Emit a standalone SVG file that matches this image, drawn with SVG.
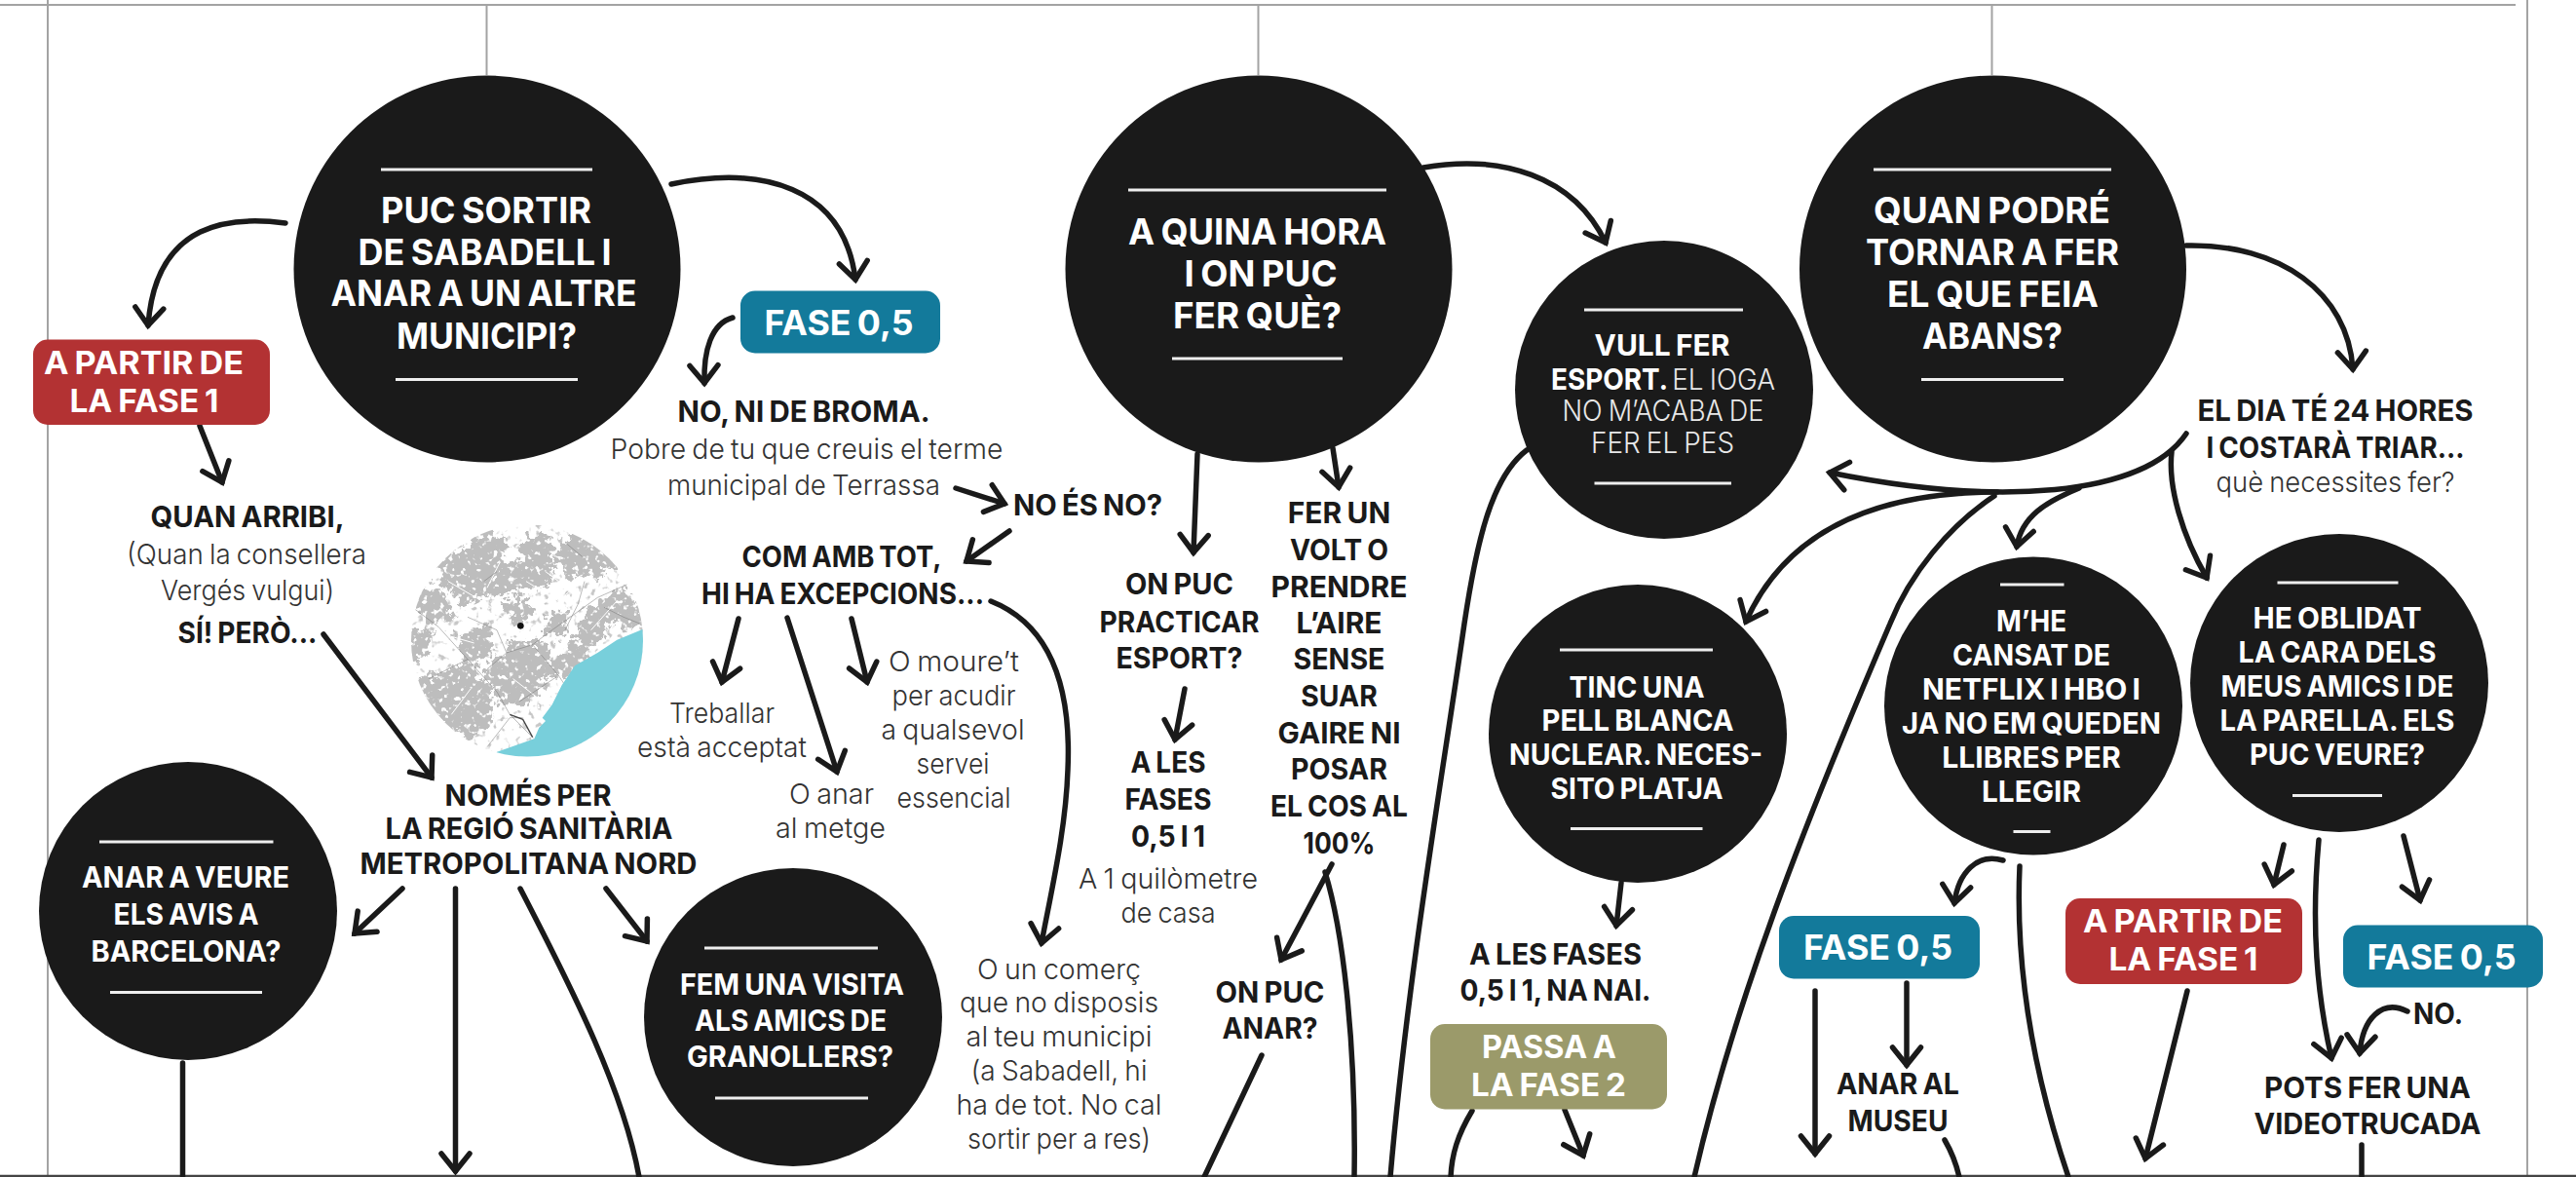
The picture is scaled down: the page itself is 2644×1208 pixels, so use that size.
<svg xmlns="http://www.w3.org/2000/svg" width="2644" height="1208" viewBox="0 0 2644 1208">
<style>
text{font-family:"Inter","Liberation Sans",sans-serif;text-anchor:middle;word-spacing:-.06em}
.h{font-size:37px;font-weight:700;fill:#fff}
.w{font-size:29.5px;font-weight:700;fill:#fff}
.wl{font-weight:300;fill:#e8e8e8}
.d{font-size:29.5px;font-weight:700;fill:#1a1a1a}
.l{font-size:29px;font-weight:300;fill:#333}
.b{font-size:32px;font-weight:700;fill:#fff}
.f{font-size:35px;font-weight:700;fill:#fff}
.c{fill:#1a1a1a}
.r{stroke:#eee;stroke-width:3;fill:none}
.frame{stroke:#a3a3a3;stroke-width:2;fill:none}
.conn path{fill:none;stroke:#1a1a1a;stroke-width:5.5;stroke-linecap:round}
.a{marker-end:url(#arr)}
.red{fill:#b33233}.teal{fill:#137a9b}.olive{fill:#9b9a6a}
.road{fill:none;stroke:#777;stroke-width:2.5;opacity:.6}
.wr{fill:none;stroke:#fff;stroke-width:3}
</style>
<defs>
<marker id="arr" markerUnits="userSpaceOnUse" markerWidth="50" markerHeight="50" refX="25" refY="25" orient="auto" viewBox="0 0 50 50" overflow="visible">
<path d="M7,10.5 L25,25 L7,39.5" fill="none" stroke="#1a1a1a" stroke-width="5.5" stroke-linecap="round" stroke-linejoin="miter"/>
</marker>
<clipPath id="mapclip"><circle cx="541" cy="657.5" r="119"/></clipPath>
<filter id="rough" x="-10%" y="-10%" width="120%" height="120%" color-interpolation-filters="sRGB">
<feTurbulence type="fractalNoise" baseFrequency="0.035" numOctaves="5" seed="4" result="n"/>
<feDisplacementMap in="SourceGraphic" in2="n" scale="70" xChannelSelector="R" yChannelSelector="G"/>
</filter>
<filter id="speck" x="0" y="0" width="100%" height="100%" color-interpolation-filters="sRGB">
<feTurbulence type="fractalNoise" baseFrequency="0.14" numOctaves="2" seed="9"/>
<feColorMatrix values="0 0 0 0 .78 0 0 0 0 .78 0 0 0 0 .78 7 0 0 0 -4.2"/>
</filter>
<filter id="wspeck" x="0" y="0" width="100%" height="100%" color-interpolation-filters="sRGB">
<feTurbulence type="fractalNoise" baseFrequency="0.06" numOctaves="2" seed="21"/>
<feColorMatrix values="0 0 0 0 1 0 0 0 0 1 0 0 0 0 1 9 0 0 0 -5.4"/>
</filter>
</defs>
<rect width="2644" height="1208" fill="#fff"/>
<g id="frame">
<path class="frame" d="M0,5H2582M49,0V1208M2594,0V1208M499.5,5V77M1291.5,5V77M2044.5,5V77"/>
<path d="M0,1207H2644" stroke="#444" stroke-width="2.5"/>
</g>
<g id="map" clip-path="url(#mapclip)">
<circle cx="541" cy="657.5" r="119" fill="#fff"/>
<rect x="420" y="536" width="244" height="244" filter="url(#speck)"/>
<g transform="translate(400,520) scale(.3333)">
<g fill="#bdbdbd" filter="url(#rough)">
<path d="M150,170L250,110L300,60L360,110L345,160L400,175L410,80L490,90L505,170L485,250L410,250L340,280L300,270L235,300L170,250Z"/>
<path d="M500,160L560,80L640,100L700,170L640,215L540,215Z"/>
<path d="M60,280L150,240L200,345L110,350Z"/>
<path d="M630,300L720,250L800,340L735,390L680,360L650,410L590,470L565,400Z"/>
<path d="M370,420L490,420L515,500L460,565L425,615L330,600L285,510L340,470Z"/>
<path d="M80,530L230,480L300,540L325,650L245,720L160,665L105,600Z"/>
<path d="M480,330L550,320L540,400L480,390Z"/>
<path d="M490,490L570,420L620,470L540,545Z"/>
<path d="M200,390L295,370L330,450L240,500Z"/>
<path d="M50,385L130,375L115,470L50,480Z"/>
<path d="M340,290L430,275L450,330L380,360Z"/>
</g>
<rect x="60" y="50" width="730" height="730" filter="url(#wspeck)"/>
<path class="wr" d="M180,230L300,300L360,350M340,170L300,250M420,230L520,290L600,220M120,380L260,420M380,530L470,600M620,380L700,290M250,560L190,640M480,200L560,260"/>
<path class="road" d="M70,310L150,370L240,470L330,570L370,640L440,710"/>
<path class="road" d="M240,470L120,530M360,450L440,425L500,380L640,280L730,240M440,425L520,520L540,550M300,500L360,450L330,380L240,340M400,600L520,520M300,740L370,650L410,650M540,380L580,300L600,230M660,310L720,340L770,360M290,230L330,200M540,110L600,160"/>
<path d="M370,640L410,655L440,710" fill="none" stroke="#444" stroke-width="4"/>
<path d="M778,378L700,410L640,450L570,490L530,550L500,610L470,650L480,660L460,680L445,715L330,755L300,800L800,800L800,378Z" fill="#78cfdb"/>
<circle cx="403" cy="367" r="10" fill="#111"/>
</g>
</g>
<g id="connectors" class="conn">
<path class="a" d="M293,229C240,222 160,225 152,334"/>
<path class="a" d="M689,189C780,170 866,190 878,287"/>
<path class="a" d="M752,326C730,332 722,360 723,393"/>
<path class="a" d="M205,437L228,495"/>
<path class="a" d="M332,651L443,798"/>
<path class="a" d="M413,912L364,958"/>
<path class="a" d="M467.5,912V1202"/>
<path d="M534,912C590,1020 640,1120 656,1208"/>
<path class="a" d="M622,912L664,966"/>
<path d="M187.5,1091V1208"/>
<path class="a" d="M981,501L1031,517"/>
<path class="a" d="M1036,545L992,576"/>
<path class="a" d="M758,635L741,700"/>
<path class="a" d="M808,634L859,792"/>
<path class="a" d="M874,635L890,700"/>
<path class="a" d="M1017,617C1075,640 1100,700 1096,790C1094,850 1080,910 1069,968"/>
<path class="a" d="M1229,466L1225,567"/>
<path class="a" d="M1368,460L1374,500"/>
<path class="a" d="M1216,707L1206,759"/>
<path class="a" d="M1367,887L1315,985"/>
<path d="M1360,895C1380,960 1392,1080 1390,1208"/>
<path d="M1295,1083L1236,1208"/>
<path class="a" d="M1461,172C1540,158 1615,180 1648,249"/>
<path class="a" d="M1664,906L1659,950"/>
<path class="a" d="M1606,1139L1625,1186"/>
<path d="M1511,1140C1496,1165 1490,1185 1489,1208"/>
<path d="M1567,462C1530,490 1515,560 1503,640C1480,800 1445,1000 1427,1208"/>
<path class="a" d="M2244,252C2340,250 2410,300 2415,379"/>
<path class="a" d="M2244,445C2200,510 2050,520 1878,485"/>
<path class="a" d="M2050,505C1950,505 1840,530 1792,638"/>
<path d="M2047,509C2000,540 1960,590 1940,640C1850,850 1780,1030 1739,1208"/>
<path class="a" d="M2134,501C2100,515 2075,530 2070,561"/>
<path class="a" d="M2229,464C2225,500 2240,550 2265,593"/>
<path class="a" d="M2056,883C2030,875 2010,895 2006,927"/>
<path d="M2073,889C2068,1000 2090,1110 2123,1208"/>
<path class="a" d="M2344,867L2334,908"/>
<path class="a" d="M2380,862C2372,950 2378,1020 2393,1086"/>
<path class="a" d="M2467,858L2484,924"/>
<path class="a" d="M2471,1038C2445,1025 2425,1045 2422,1081"/>
<path class="a" d="M1863,1017V1184"/>
<path class="a" d="M1957,1009V1093"/>
<path d="M1996,1170C2003,1182 2008,1195 2011,1208"/>
<path class="a" d="M2245,1017L2202,1189"/>
<path d="M2424,1175V1208"/>
</g>
<g id="n1"><circle class="c" cx="500" cy="276" r="198.5"/><path class="r" d="M391,174H608M406,389.5H593"/>
<text lengthAdjust="spacingAndGlyphs" class="h" x="499" y="229" textLength="216">PUC SORTIR</text><text lengthAdjust="spacingAndGlyphs" class="h" x="497.5" y="272" textLength="260">DE SABADELL I</text><text lengthAdjust="spacingAndGlyphs" class="h" x="496.5" y="314" textLength="314">ANAR A UN ALTRE</text><text lengthAdjust="spacingAndGlyphs" class="h" x="499.5" y="357.5" textLength="185">MUNICIPI?</text></g>
<g id="n2"><circle class="c" cx="1292" cy="276" r="198.5"/><path class="r" d="M1158,195H1423M1203,368H1378"/>
<text lengthAdjust="spacingAndGlyphs" class="h" x="1290.5" y="251" textLength="265">A QUINA HORA</text><text lengthAdjust="spacingAndGlyphs" class="h" x="1294" y="293.5" textLength="157">I ON PUC</text><text lengthAdjust="spacingAndGlyphs" class="h" x="1290.5" y="337" textLength="173">FER QUÈ?</text></g>
<g id="n3"><circle class="c" cx="2045.5" cy="276" r="198.5"/><path class="r" d="M1923,174H2167M1972,389.5H2118"/>
<text lengthAdjust="spacingAndGlyphs" class="h" x="2044.5" y="229" textLength="243">QUAN PODRÉ</text><text lengthAdjust="spacingAndGlyphs" class="h" x="2045" y="271.5" textLength="260">TORNAR A FER</text><text lengthAdjust="spacingAndGlyphs" class="h" x="2045.5" y="314.5" textLength="217">EL QUE FEIA</text><text lengthAdjust="spacingAndGlyphs" class="h" x="2045" y="357.5" textLength="144">ABANS?</text></g>
<g id="n4"><circle class="c" cx="1708" cy="400" r="153"/><path class="r" d="M1626,318H1789M1636.5,496H1777"/>
<text lengthAdjust="spacingAndGlyphs" class="w" x="1706" y="365" textLength="139">VULL FER</text><text lengthAdjust="spacingAndGlyphs" class="w" x="1707" y="399.5" textLength="230">ESPORT. <tspan class="wl">EL IOGA</tspan></text><text lengthAdjust="spacingAndGlyphs" class="w wl" x="1707" y="432" textLength="207">NO M’ACABA DE</text><text lengthAdjust="spacingAndGlyphs" class="w wl" x="1706.5" y="465" textLength="147">FER EL PES</text></g>
<g id="n5"><circle class="c" cx="1681" cy="753" r="153"/><path class="r" d="M1601,667H1758M1612,850.5H1747.5"/>
<text lengthAdjust="spacingAndGlyphs" class="w" x="1680" y="715.5" textLength="139">TINC UNA</text><text lengthAdjust="spacingAndGlyphs" class="w" x="1681" y="749.5" textLength="197">PELL BLANCA</text><text lengthAdjust="spacingAndGlyphs" class="w" x="1679" y="785" textLength="260">NUCLEAR. NECES-</text><text lengthAdjust="spacingAndGlyphs" class="w" x="1680" y="819.5" textLength="177">SITO PLATJA</text></g>
<g id="n6"><circle class="c" cx="2087" cy="724.5" r="153"/><path class="r" d="M2053,600H2118.5M2066.5,853.5H2104.5"/>
<text lengthAdjust="spacingAndGlyphs" class="w" x="2085" y="647.5" textLength="72">M’HE</text><text lengthAdjust="spacingAndGlyphs" class="w" x="2085" y="682.5" textLength="162">CANSAT DE</text><text lengthAdjust="spacingAndGlyphs" class="w" x="2085" y="717.5" textLength="224">NETFLIX I HBO I</text><text lengthAdjust="spacingAndGlyphs" class="w" x="2085" y="753" textLength="266">JA NO EM QUEDEN</text><text lengthAdjust="spacingAndGlyphs" class="w" x="2085" y="788" textLength="183.5">LLIBRES PER</text><text lengthAdjust="spacingAndGlyphs" class="w" x="2085" y="823" textLength="102">LLEGIR</text></g>
<g id="n7"><circle class="c" cx="2401" cy="701" r="153"/><path class="r" d="M2337.5,598H2461.5M2353,816.5H2445"/>
<text lengthAdjust="spacingAndGlyphs" class="w" x="2399" y="645" textLength="173">HE OBLIDAT</text><text lengthAdjust="spacingAndGlyphs" class="w" x="2399" y="680" textLength="203">LA CARA DELS</text><text lengthAdjust="spacingAndGlyphs" class="w" x="2399" y="715" textLength="239">MEUS AMICS I DE</text><text lengthAdjust="spacingAndGlyphs" class="w" x="2399" y="750" textLength="241">LA PARELLA. ELS</text><text lengthAdjust="spacingAndGlyphs" class="w" x="2399" y="785" textLength="180">PUC VEURE?</text></g>
<g id="n8"><circle class="c" cx="193" cy="935" r="153"/><path class="r" d="M102,864H280.5M113,1018.5H269"/>
<text lengthAdjust="spacingAndGlyphs" class="w" x="190.5" y="911" textLength="213">ANAR A VEURE</text><text lengthAdjust="spacingAndGlyphs" class="w" x="191" y="949" textLength="149">ELS AVIS A</text><text lengthAdjust="spacingAndGlyphs" class="w" x="191" y="986.5" textLength="195">BARCELONA?</text></g>
<g id="n9"><circle class="c" cx="814" cy="1044" r="153"/><path class="r" d="M723,973H901M734,1127H891"/>
<text lengthAdjust="spacingAndGlyphs" class="w" x="813" y="1021" textLength="230">FEM UNA VISITA</text><text lengthAdjust="spacingAndGlyphs" class="w" x="811.5" y="1057.5" textLength="197">ALS AMICS DE</text><text lengthAdjust="spacingAndGlyphs" class="w" x="811" y="1095" textLength="212">GRANOLLERS?</text></g>
<g id="b1"><rect class="red" x="34" y="348.5" width="243" height="87.5" rx="15"/><text lengthAdjust="spacingAndGlyphs" class="b" x="147.5" y="384" textLength="205">A PARTIR DE</text><text lengthAdjust="spacingAndGlyphs" class="b" x="148" y="422.5" textLength="153">LA FASE 1</text></g>
<g id="b2"><rect class="teal" x="760" y="298.5" width="205" height="64" rx="15"/><text lengthAdjust="spacingAndGlyphs" class="f" x="861" y="344" textLength="153">FASE 0,5</text></g>
<g id="b3"><rect class="teal" x="1826" y="940" width="206" height="64.5" rx="15"/><text lengthAdjust="spacingAndGlyphs" class="f" x="1927.5" y="985" textLength="153">FASE 0,5</text></g>
<g id="b4"><rect class="red" x="2120" y="922" width="243" height="88" rx="15"/><text lengthAdjust="spacingAndGlyphs" class="b" x="2240.5" y="957" textLength="205">A PARTIR DE</text><text lengthAdjust="spacingAndGlyphs" class="b" x="2241" y="996" textLength="153">LA FASE 1</text></g>
<g id="b5"><rect class="teal" x="2405" y="949.5" width="205" height="64" rx="15"/><text lengthAdjust="spacingAndGlyphs" class="f" x="2506" y="995" textLength="153">FASE 0,5</text></g>
<g id="b6"><rect class="olive" x="1468" y="1051" width="243" height="87.5" rx="15"/><text lengthAdjust="spacingAndGlyphs" class="b" x="1590" y="1086" textLength="138">PASSA A</text><text lengthAdjust="spacingAndGlyphs" class="b" x="1589.5" y="1125" textLength="159">LA FASE 2</text></g>
<g id="t1"><text lengthAdjust="spacingAndGlyphs" class="d" x="254" y="540.5" textLength="199">QUAN ARRIBI,</text><text lengthAdjust="spacingAndGlyphs" class="l" x="253" y="578.5" textLength="246">(Quan la consellera</text><text lengthAdjust="spacingAndGlyphs" class="l" x="254" y="615.5" textLength="178">Vergés vulgui)</text><text lengthAdjust="spacingAndGlyphs" class="d" x="254" y="660" textLength="143">SÍ! PERÒ...</text></g>
<g id="t2"><text lengthAdjust="spacingAndGlyphs" class="d" x="825" y="433" textLength="259">NO, NI DE BROMA.</text><text lengthAdjust="spacingAndGlyphs" class="l" x="828" y="471" textLength="403">Pobre de tu que creuis el terme</text><text lengthAdjust="spacingAndGlyphs" class="l" x="825" y="507.5" textLength="280">municipal de Terrassa</text></g>
<g id="t3"><text lengthAdjust="spacingAndGlyphs" class="d" x="1116.5" y="528.5" textLength="153">NO ÉS NO?</text></g>
<g id="t4"><text lengthAdjust="spacingAndGlyphs" class="d" x="864" y="581.5" textLength="205">COM AMB TOT,</text><text lengthAdjust="spacingAndGlyphs" class="d" x="865" y="620" textLength="290">HI HA EXCEPCIONS...</text></g>
<g id="t5"><text lengthAdjust="spacingAndGlyphs" class="l" x="741" y="742" textLength="108">Treballar</text><text lengthAdjust="spacingAndGlyphs" class="l" x="741" y="776.5" textLength="174">està acceptat</text></g>
<g id="t6"><text lengthAdjust="spacingAndGlyphs" class="l" x="853.5" y="825" textLength="87">O anar</text><text lengthAdjust="spacingAndGlyphs" class="l" x="852.5" y="860" textLength="113">al metge</text></g>
<g id="t7"><text lengthAdjust="spacingAndGlyphs" class="l" x="979" y="689" textLength="134">O moure’t</text><text lengthAdjust="spacingAndGlyphs" class="l" x="979" y="724" textLength="127">per acudir</text><text lengthAdjust="spacingAndGlyphs" class="l" x="978" y="759" textLength="147">a qualsevol</text><text lengthAdjust="spacingAndGlyphs" class="l" x="978" y="793.5" textLength="75">servei</text><text lengthAdjust="spacingAndGlyphs" class="l" x="979" y="828.5" textLength="117">essencial</text></g>
<g id="t8"><text lengthAdjust="spacingAndGlyphs" class="d" x="542" y="826.5" textLength="171">NOMÉS PER</text><text lengthAdjust="spacingAndGlyphs" class="d" x="543" y="861" textLength="295">LA REGIÓ SANITÀRIA</text><text lengthAdjust="spacingAndGlyphs" class="d" x="542.5" y="897" textLength="346">METROPOLITANA NORD</text></g>
<g id="t9"><text lengthAdjust="spacingAndGlyphs" class="d" x="1210.5" y="610" textLength="111">ON PUC</text><text lengthAdjust="spacingAndGlyphs" class="d" x="1210.5" y="649" textLength="164">PRACTICAR</text><text lengthAdjust="spacingAndGlyphs" class="d" x="1210.5" y="685.5" textLength="130">ESPORT?</text></g>
<g id="t10"><text lengthAdjust="spacingAndGlyphs" class="d" x="1199" y="793" textLength="77">A LES</text><text lengthAdjust="spacingAndGlyphs" class="d" x="1199" y="831" textLength="89">FASES</text><text lengthAdjust="spacingAndGlyphs" class="d" x="1199" y="868.5" textLength="76">0,5 I 1</text><text lengthAdjust="spacingAndGlyphs" class="l" x="1199" y="912" textLength="184">A 1 quilòmetre</text><text lengthAdjust="spacingAndGlyphs" class="l" x="1199" y="947" textLength="97">de casa</text></g>
<g id="t11"><text lengthAdjust="spacingAndGlyphs" class="d" x="1374.5" y="536.5" textLength="105.5">FER UN</text><text lengthAdjust="spacingAndGlyphs" class="d" x="1374.5" y="574.5" textLength="101">VOLT O</text><text lengthAdjust="spacingAndGlyphs" class="d" x="1374.5" y="612.5" textLength="140">PRENDRE</text><text lengthAdjust="spacingAndGlyphs" class="d" x="1374.5" y="649.5" textLength="88">L’AIRE</text><text lengthAdjust="spacingAndGlyphs" class="d" x="1374.5" y="687" textLength="94">SENSE</text><text lengthAdjust="spacingAndGlyphs" class="d" x="1374.5" y="725" textLength="78.5">SUAR</text><text lengthAdjust="spacingAndGlyphs" class="d" x="1374.5" y="762.5" textLength="126">GAIRE NI</text><text lengthAdjust="spacingAndGlyphs" class="d" x="1374.5" y="800" textLength="99">POSAR</text><text lengthAdjust="spacingAndGlyphs" class="d" x="1374.5" y="837.5" textLength="141">EL COS AL</text><text lengthAdjust="spacingAndGlyphs" class="d" x="1374.5" y="875.5" textLength="74">100%</text></g>
<g id="t12"><text lengthAdjust="spacingAndGlyphs" class="d" x="1303.5" y="1028.5" textLength="112">ON PUC</text><text lengthAdjust="spacingAndGlyphs" class="d" x="1303.5" y="1066" textLength="98">ANAR?</text></g>
<g id="t13"><text lengthAdjust="spacingAndGlyphs" class="l" x="1087" y="1004.5" textLength="168">O un comerç</text><text lengthAdjust="spacingAndGlyphs" class="l" x="1087" y="1039" textLength="204">que no disposis</text><text lengthAdjust="spacingAndGlyphs" class="l" x="1087" y="1074" textLength="191">al teu municipi</text><text lengthAdjust="spacingAndGlyphs" class="l" x="1087" y="1108.5" textLength="181">(a Sabadell, hi</text><text lengthAdjust="spacingAndGlyphs" class="l" x="1087" y="1144" textLength="211">ha de tot. No cal</text><text lengthAdjust="spacingAndGlyphs" class="l" x="1087" y="1178.5" textLength="188">sortir per a res)</text></g>
<g id="t14"><text lengthAdjust="spacingAndGlyphs" class="d" x="1596.5" y="989.5" textLength="177">A LES FASES</text><text lengthAdjust="spacingAndGlyphs" class="d" x="1596.5" y="1026.5" textLength="196">0,5 I 1, NA NAI.</text></g>
<g id="t15"><text lengthAdjust="spacingAndGlyphs" class="d" x="2397" y="432" textLength="283">EL DIA TÉ 24 HORES</text><text lengthAdjust="spacingAndGlyphs" class="d" x="2397" y="470" textLength="265">I COSTARÀ TRIAR...</text><text lengthAdjust="spacingAndGlyphs" class="l" x="2397" y="504.5" textLength="245">què necessites fer?</text></g>
<g id="t16"><text lengthAdjust="spacingAndGlyphs" class="d" x="1948" y="1123" textLength="126">ANAR AL</text><text lengthAdjust="spacingAndGlyphs" class="d" x="1948" y="1161" textLength="103">MUSEU</text></g>
<g id="t17"><text lengthAdjust="spacingAndGlyphs" class="d" x="2430" y="1126.5" textLength="212">POTS FER UNA</text><text lengthAdjust="spacingAndGlyphs" class="d" x="2430" y="1163.5" textLength="233">VIDEOTRUCADA</text></g>
<g id="t18"><text lengthAdjust="spacingAndGlyphs" class="d" x="2502.5" y="1051" textLength="51">NO.</text></g>
</svg>
